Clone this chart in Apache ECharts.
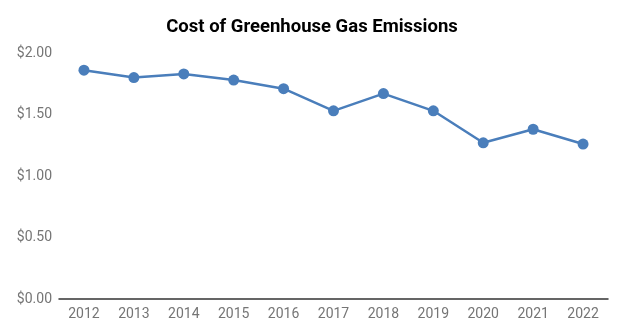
<!DOCTYPE html>
<html><head><meta charset="utf-8">
<script src="https://cdn.jsdelivr.net/npm/echarts@6/dist/echarts.min.js"></script>
<style>html,body{margin:0;padding:0;background:#fff}#c{width:624px;height:336px}</style>
</head><body><div id="c"></div>
<script>
const titleText = "Cost of Greenhouse Gas Emissions";
const years = ["2012","2013","2014","2015","2016","2017","2018","2019","2020","2021","2022"];
const costs = [1.86, 1.80, 1.83, 1.78, 1.71, 1.53, 1.67, 1.53, 1.27, 1.38, 1.26];
const yMin = 0, yMax = 2, yStep = 0.5;

const chart = echarts.init(document.getElementById('c'), null, {renderer:'canvas'});
chart.setOption({
  animation: false,
  backgroundColor: '#ffffff',
  title: {
    text: titleText, left: 'center', top: 13,
    textStyle: {fontFamily: 'Roboto', fontWeight: 'bold', fontSize: 18.5, color: '#000'}
  },
  grid: {left: 59, right: 16, top: 53, bottom: 37},
  xAxis: {
    type: 'category', data: years, boundaryGap: true,
    axisLine: {lineStyle: {color: '#333', width: 1.5}},
    axisTick: {show: false},
    axisLabel: {color: '#757575', fontFamily: 'Roboto', fontSize: 14, margin: 8}
  },
  yAxis: {
    type: 'value', min: yMin, max: yMax, interval: yStep,
    splitLine: {show: false},
    axisLine: {show: false}, axisTick: {show: false},
    axisLabel: {color: '#757575', fontFamily: 'Roboto', fontSize: 14, margin: 7,
      formatter: v => '$' + v.toFixed(2)}
  },
  series: [{
    type: 'line', data: costs,
    symbol: 'circle', symbolSize: 11,
    itemStyle: {color: '#4a7ebb'},
    lineStyle: {color: '#4a7ebb', width: 2.5}
  }]
});
</script></body></html>
